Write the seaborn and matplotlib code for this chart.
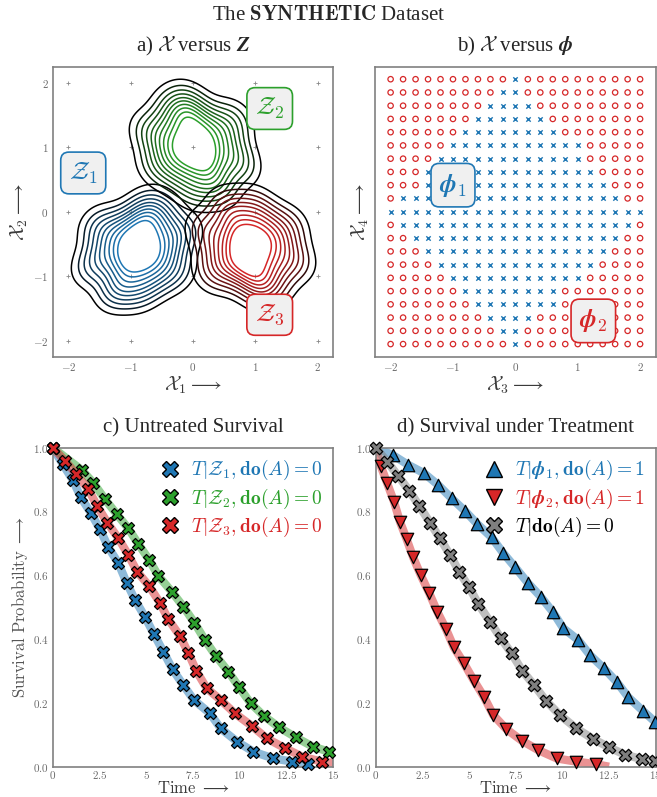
import numpy as np
import pandas as pd
import matplotlib.pyplot as plt
import matplotlib.ticker as mticker
from matplotlib.colors import LinearSegmentedColormap, to_rgb
from matplotlib.lines import Line2D
import seaborn as sns

sns.set_style('white')
plt.rcParams['font.family'] = ['Liberation Serif', 'DejaVu Serif']
plt.rcParams['mathtext.fontset'] = 'cm'

BLUE, GREEN, RED, GREY = '#1f77b4', '#2ca02c', '#d62728', '#7f7f7f'

# ---- panel a: samples of the three clusters (X1, X2)
z1_x = [-0.90, -0.69, -1.07, -0.86, -0.99, -0.77, -0.56, -1.22, -1.28, -0.47, -0.81, -1.03,
        -0.39, -1.43, -0.64, -1.11, -0.29, -1.50, -0.86, -0.73, -1.62, -0.18, -0.52, -1.24]
z1_y = [-0.60, -0.56, -0.47, -0.84, -0.70, -0.34, -0.77, -0.81, -0.34, -0.30, -0.13, -0.19,
        -0.60, -0.62, -1.04, -1.07, -0.94, -0.22, -1.24, 0.08, -0.86, -0.34, -0.05, -1.24]
z2_x = [0.07, -0.15, 0.23, 0.00, 0.15, -0.07, -0.30, 0.35, 0.45, -0.37, -0.03, 0.20,
        -0.45, 0.60, -0.23, 0.25, -0.57, 0.63, 0.02, -0.11, 0.75, -0.69, -0.31, 0.41]
z2_y = [0.97, 1.06, 1.12, 0.78, 0.88, 1.28, 0.85, 0.76, 1.24, 1.32, 1.50, 1.40,
        1.03, 0.96, 0.58, 0.52, 0.70, 1.42, 0.34, 1.70, 0.72, 1.24, 1.58, 0.38]
z3_x = [0.88, 1.12, 0.75, 0.96, 0.80, 1.02, 1.23, 0.60, 0.54, 1.34, 0.97, 0.75,
        1.42, 0.38, 1.14, 0.68, 1.52, 0.32, 0.95, 1.08, 0.20, 1.64, 1.26, 0.55]
z3_y = [-0.53, -0.60, -0.69, -0.30, -0.46, -0.82, -0.37, -0.33, -0.82, -0.83, -1.03, -0.95,
        -0.51, -0.55, -0.10, -0.09, -0.22, -0.95, 0.09, -1.23, -0.27, -0.77, -1.11, 0.07]
kde_levels = [0.04, 0.09, 0.15, 0.22, 0.3, 0.38, 0.47, 0.56, 0.65, 0.74]
grid_ticks = [-2, -1, 0, 1, 2]

# ---- panel b: 21x21 grid, phi1 occupies columns first..last of each row (top row = X4 2.0)
grid_vals = [-2.0, -1.8, -1.6, -1.4, -1.2, -1.0, -0.8, -0.6, -0.4, -0.2, 0.0,
             0.2, 0.4, 0.6, 0.8, 1.0, 1.2, 1.4, 1.6, 1.8, 2.0]
phi1_first = [10, 9, 8, 7, 6, 5, 4, 3, 3, 1, 0, 1, 2, 3, 4, 5, 6, 7, 8, 9, 10]
phi1_last = [10, 10, 11, 12, 13, 15, 15, 16, 17, 18, 20, 19, 18, 17, 16, 15, 13, 13, 11, 10, 10]

# ---- panel c: untreated survival
c1_t = [0, 0.53, 1.07, 1.50, 2.03, 2.53, 2.97, 3.51, 3.95, 4.40, 4.93, 5.41, 5.91, 6.41,
        6.98, 7.55, 8.41, 8.98, 9.87, 10.73, 11.79, 12.81, 13.66]
c1_s = [1.0, 0.949, 0.899, 0.845, 0.796, 0.744, 0.688, 0.638, 0.577, 0.523, 0.470, 0.416,
        0.361, 0.305, 0.256, 0.209, 0.167, 0.120, 0.078, 0.047, 0.026, 0.016, 0.009]
c2_t = [0, 1.55, 2.17, 2.80, 3.42, 4.04, 4.58, 5.16, 5.65, 6.36, 6.98, 7.58, 8.14, 8.73,
        9.39, 9.97, 10.58, 11.29, 12.11, 13.00, 13.90, 14.78]
c2_s = [1.0, 0.930, 0.890, 0.838, 0.792, 0.747, 0.698, 0.648, 0.598, 0.549, 0.502, 0.451,
        0.397, 0.347, 0.298, 0.249, 0.199, 0.159, 0.123, 0.092, 0.063, 0.047]
c3_t = [0, 0.66, 1.25, 1.90, 2.38, 2.92, 3.51, 4.04, 4.52, 5.16, 5.73, 6.18, 6.80, 7.25,
        7.68, 8.23, 8.98, 9.74, 10.64, 11.44, 12.42, 13.35, 14.38]
c3_s = [1.0, 0.959, 0.918, 0.870, 0.817, 0.765, 0.716, 0.664, 0.611, 0.566, 0.514, 0.462,
        0.410, 0.357, 0.300, 0.246, 0.209, 0.167, 0.128, 0.089, 0.058, 0.031, 0.016]
c_tail = {'c1': ([], []), 'c2': ([15.0], [0.043]), 'c3': ([15.0], [0.012])}

# ---- panel d: survival under treatment
d1_t = [0.91, 1.75, 2.59, 3.35, 4.07, 4.78, 5.44, 6.21, 6.84, 7.46, 8.17, 8.84, 9.48,
        10.05, 10.85, 11.48, 12.23, 12.91, 13.53, 14.30, 14.96]
d1_s = [0.977, 0.946, 0.920, 0.883, 0.841, 0.802, 0.761, 0.719, 0.669, 0.626, 0.575,
        0.533, 0.486, 0.434, 0.397, 0.350, 0.308, 0.266, 0.218, 0.176, 0.141]
d2_t = [0.27, 0.62, 0.98, 1.30, 1.66, 2.01, 2.41, 2.87, 3.30, 3.77, 4.19, 4.73, 5.26,
        5.80, 6.30, 7.00, 7.82, 8.71, 9.70, 10.73, 11.80]
d2_s = [0.943, 0.888, 0.831, 0.768, 0.713, 0.656, 0.601, 0.544, 0.486, 0.431, 0.374,
        0.324, 0.270, 0.219, 0.162, 0.118, 0.082, 0.052, 0.026, 0.016, 0.008]
d0_t = [0, 0.62, 1.21, 1.80, 2.34, 2.91, 3.44, 3.98, 4.48, 5.01, 5.50, 6.12, 6.69, 7.28,
        7.85, 8.48, 9.12, 9.87, 10.73, 11.62, 12.49, 13.38, 14.25, 14.96]
d0_s = [1.0, 0.956, 0.911, 0.865, 0.817, 0.765, 0.716, 0.664, 0.611, 0.562, 0.510, 0.455,
        0.404, 0.355, 0.301, 0.256, 0.207, 0.162, 0.121, 0.088, 0.061, 0.037, 0.024, 0.019]
d_head = ([0.0], [1.0])
d_tail = {'d1': ([15.0], [0.138]), 'd2': ([12.5], [0.0]), 'd0': ([15.0], [0.015])}

c_labels = [r'$T|\mathcal{Z}_1, \mathbf{do}(A) = \mathbf{0}$',
            r'$T|\mathcal{Z}_2, \mathbf{do}(A) = \mathbf{0}$',
            r'$T|\mathcal{Z}_3, \mathbf{do}(A) = \mathbf{0}$']
d_labels = [r'$T|\boldsymbol{\phi}_1, \mathbf{do}(A) = \mathbf{1}$',
            r'$T|\boldsymbol{\phi}_2, \mathbf{do}(A) = \mathbf{1}$',
            r'$T|\mathbf{do}(A) = \mathbf{0}$']

TICK_C = '#6a6a6a'
LABEL_C = '#3a3a3a'


def style_axes(ax):
    for sp in ax.spines.values():
        sp.set_color('#808080')
        sp.set_linewidth(1.2)
    ax.tick_params(labelsize=8, labelcolor=TICK_C, length=0, pad=3)


def math_fmt(fmt):
    return mticker.FuncFormatter(lambda v, p: '$' + format(v, fmt) + '$')


def box_label(ax, x, y, txt, color):
    ax.text(x, y, txt, color=color, fontsize=18, ha='center', va='center',
            bbox=dict(boxstyle='round,pad=0.33', fc='#f0f0f0', ec=color, lw=1.2))


def contour_cmap(col):
    # outer contours black, inner ones in the cluster colour
    dark = tuple(0.4 * np.array(to_rgb(col)))
    return LinearSegmentedColormap.from_list('c', [(0, 'black'), (0.2, dark), (1, col)])


fig = plt.figure(figsize=(6.57, 7.97), dpi=100)
ax_a = fig.add_axes([0.0802, 0.5525, 0.4271, 0.3639])
ax_b = fig.add_axes([0.5708, 0.5525, 0.4272, 0.3639])
ax_c = fig.add_axes([0.0802, 0.0380, 0.4271, 0.4003])
ax_d = fig.add_axes([0.5718, 0.0380, 0.4262, 0.4003])

fig.text(0.5, 1 - 16 / 797, r'The $\mathbf{SYNTHETIC}$ Dataset', ha='center', va='center',
         fontsize=15)

# ---------------- a) X versus Z
gx, gy = np.meshgrid(grid_ticks, grid_ticks)
sns.scatterplot(x=gx.ravel(), y=gy.ravel(), marker='+', color='#888888', s=12,
                linewidth=0.6, ax=ax_a, zorder=1)
for xs, ys, col in [(z1_x, z1_y, BLUE), (z2_x, z2_y, GREEN), (z3_x, z3_y, RED)]:
    sns.kdeplot(x=xs, y=ys, ax=ax_a, levels=kde_levels, cmap=contour_cmap(col),
                linewidths=1.1)
box_label(ax_a, -1.76, 0.6, r'$\mathcal{Z}_1$', BLUE)
box_label(ax_a, 1.23, 1.6, r'$\mathcal{Z}_2$', GREEN)
box_label(ax_a, 1.23, -1.6, r'$\mathcal{Z}_3$', RED)
ax_a.set_xlim(-2.25, 2.25)
ax_a.set_ylim(-2.25, 2.25)
ax_a.set_xticks(grid_ticks)
ax_a.set_yticks(grid_ticks)
ax_a.xaxis.set_major_formatter(math_fmt('g'))
ax_a.yaxis.set_major_formatter(math_fmt('g'))
ax_a.set_xlabel(r'$\mathcal{X}_1 \longrightarrow$', fontsize=14, color=LABEL_C, labelpad=1)
ax_a.set_ylabel(r'$\mathcal{X}_2 \longrightarrow$', fontsize=14, color=LABEL_C, labelpad=2)
ax_a.set_title(r'a) $\mathcal{X}$ versus $\boldsymbol{Z}$', fontsize=15, pad=11)
style_axes(ax_a)

# ---------------- b) X versus phi
rows = []
for r, (first, last) in enumerate(zip(phi1_first, phi1_last)):
    x4 = grid_vals[len(grid_vals) - 1 - r]
    for c, x3 in enumerate(grid_vals):
        rows.append((x3, x4, 'phi1' if first <= c <= last else 'phi2'))
grid_df = pd.DataFrame(rows, columns=['x3', 'x4', 'group'])
sns.scatterplot(data=grid_df[grid_df.group == 'phi2'], x='x3', y='x4', marker='o',
                color=RED, facecolors='none', edgecolor=RED, s=15, linewidth=0.9, ax=ax_b)
sns.scatterplot(data=grid_df[grid_df.group == 'phi1'], x='x3', y='x4', marker='x',
                color=BLUE, s=10, linewidth=1.0, ax=ax_b)
box_label(ax_b, -1.0, 0.4, r'$\boldsymbol{\phi}_1$', BLUE)
box_label(ax_b, 1.25, -1.65, r'$\boldsymbol{\phi}_2$', RED)
ax_b.set_xlim(-2.25, 2.25)
ax_b.set_ylim(-2.19, 2.19)
ax_b.set_xticks(grid_ticks)
ax_b.set_yticks([])
ax_b.xaxis.set_major_formatter(math_fmt('g'))
ax_b.set_xlabel(r'$\mathcal{X}_3 \longrightarrow$', fontsize=14, color=LABEL_C, labelpad=1)
ax_b.set_ylabel(r'$\mathcal{X}_4 \longrightarrow$', fontsize=14, color=LABEL_C, labelpad=3)
ax_b.set_title(r'b) $\mathcal{X}$ versus $\boldsymbol{\phi}$', fontsize=15, pad=11)
style_axes(ax_b)


def survival(ax, t, s, line_t, line_s, col, marker, size):
    sns.lineplot(x=line_t, y=line_s, color=col, alpha=0.5, linewidth=6, ax=ax,
                 estimator=None, sort=False, solid_capstyle='butt')
    sns.scatterplot(x=t, y=s, marker=marker, color=col, edgecolor='black', linewidth=0.9,
                    s=size, ax=ax, zorder=3, clip_on=False)


def surv_axes(ax, title):
    ax.set_xlim(0, 15)
    ax.set_ylim(0, 1)
    ax.set_xticks([0, 2.5, 5, 7.5, 10, 12.5, 15])
    ax.set_yticks([0, 0.2, 0.4, 0.6, 0.8, 1.0])
    ax.xaxis.set_major_formatter(math_fmt('g'))
    ax.yaxis.set_major_formatter(math_fmt('.1f'))
    ax.set_title(title, fontsize=15, pad=11)
    style_axes(ax)
    ax.tick_params(axis='x', pad=2)
    ax.set_xlabel(r'$\mathrm{Time}\ \longrightarrow$', fontsize=12, color=LABEL_C, labelpad=0)


# ---------------- c) untreated survival
for key, t, s, col in [('c1', c1_t, c1_s, BLUE), ('c2', c2_t, c2_s, GREEN), ('c3', c3_t, c3_s, RED)]:
    tt, ts = c_tail[key]
    survival(ax_c, t, s, t + tt, s + ts, col, 'X', 75)
surv_axes(ax_c, 'c) Untreated Survival')
ax_c.set_ylabel(r'$\mathrm{Survival\ Probability}\ \longrightarrow$', fontsize=12,
                color='#555555', labelpad=2)
handles = [Line2D([], [], ls='', marker='X', ms=12, color=c, mec='black', mew=1)
           for c in [BLUE, GREEN, RED]]
leg = ax_c.legend(handles, c_labels, loc='upper right', frameon=False, fontsize=14,
                  handletextpad=0.1, borderaxespad=0.15, labelspacing=0.2)
for txt, c in zip(leg.get_texts(), [BLUE, GREEN, RED]):
    txt.set_color(c)

# ---------------- d) survival under treatment
for key, t, s, col, mk in [('d1', d1_t, d1_s, BLUE, '^'), ('d2', d2_t, d2_s, RED, 'v'),
                           ('d0', d0_t, d0_s, GREY, 'X')]:
    tt, ts = d_tail[key]
    survival(ax_d, t, s, d_head[0] + t + tt, d_head[1] + s + ts, col, mk, 80)
surv_axes(ax_d, 'd) Survival under Treatment')
handles = [Line2D([], [], ls='', marker=m, ms=12, color=c, mec='black', mew=1)
           for m, c in [('^', BLUE), ('v', RED), ('X', GREY)]]
leg = ax_d.legend(handles, d_labels, loc='upper right', frameon=False, fontsize=14,
                  handletextpad=0.1, borderaxespad=0.15, labelspacing=0.2)
for txt, c in zip(leg.get_texts(), [BLUE, RED, 'black']):
    txt.set_color(c)

fig.savefig('out.png', dpi=100)
